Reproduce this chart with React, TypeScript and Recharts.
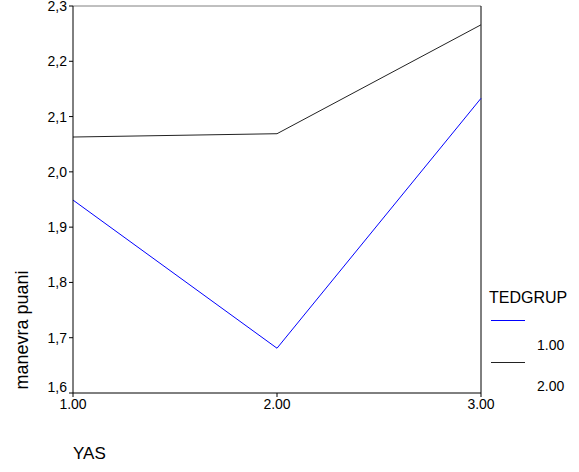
import React from "react";
import { LineChart, Line, XAxis, YAxis, ReferenceLine } from "recharts";

const yasCategories = [1, 2, 3];
const grup1Values = [1.949, 1.681, 2.133];
const grup2Values = [2.063, 2.069, 2.266];
const yTicks = [1.6, 1.7, 1.8, 1.9, 2.0, 2.1, 2.2, 2.3];
const legendTitle = "TEDGRUP";
const legendLabels = ["1.00", "2.00"];

const data = yasCategories.map((c, i) => ({ yas: c, g1: grup1Values[i], g2: grup2Values[i] }));

const FONT = "'Liberation Sans', Arial, Helvetica, sans-serif";

const LegendBox = () => (
  <div style={{ fontFamily: FONT, color: "#000", position: "absolute", left: 488, top: 289, width: 90, height: 110 }}>
    <div style={{ position: "absolute", left: 1, top: 0, fontSize: 16, lineHeight: "18px" }}>{legendTitle}</div>
    <div style={{ position: "absolute", left: 3, top: 31, width: 34, height: 0, borderTop: "1px solid #0000ff" }} />
    <div style={{ position: "absolute", left: 49, top: 48, fontSize: 14, lineHeight: "16px" }}>{legendLabels[0]}</div>
    <div style={{ position: "absolute", left: 3, top: 73, width: 34, height: 0, borderTop: "1px solid #222" }} />
    <div style={{ position: "absolute", left: 49, top: 89, fontSize: 14, lineHeight: "16px" }}>{legendLabels[1]}</div>
  </div>
);

const YTick = (props: any) => {
  const { x, y, payload } = props;
  const isBottom = Math.abs(payload.value - 1.6) < 1e-6;
  return (
    <text x={x} y={isBottom ? y - 6 : y} dy="0.355em" textAnchor="end" fontFamily={FONT} fontSize={14} fill="#000">
      {Number(payload.value).toFixed(1).replace(".", ",")}
    </text>
  );
};

const YLabel = (props: any) => {
  const vb = props.viewBox || {};
  const x = 22;
  const y = vb.y + vb.height - 63;
  return (
    <text x={x} y={y} transform={`rotate(-90, ${x}, ${y})`} textAnchor="middle" dominantBaseline="central"
      fontFamily={FONT} fontSize={18} fill="#000">manevra puani</text>
  );
};

const XLabel = (props: any) => {
  const vb = props.viewBox || {};
  return (
    <text x={vb.x} y={459} textAnchor="start" fontFamily={FONT} fontSize={17} fill="#000">YAS</text>
  );
};

export default function App() {
  return (
    <div style={{ position: "absolute", left: 0, top: 0, width: 579, height: 472 }}>
      <LineChart width={579} height={472} data={data} margin={{ top: 6, right: 98, bottom: 49, left: 8 }}>
        <XAxis
          dataKey="yas"
          type="number"
          domain={[1, 3]}
          ticks={yasCategories}
          tickFormatter={(v: number) => v.toFixed(2)}
          stroke="#000"
          tickSize={4}
          tick={{ fill: "#000", fontSize: 14, fontFamily: FONT }}
          height={30}
          label={<XLabel />}
        />
        <YAxis
          type="number"
          domain={[1.6, 2.3]}
          ticks={yTicks}
          stroke="#000"
          tickSize={4}
          tick={<YTick />}
          width={65}
          interval={0}
          label={<YLabel />}
        />
        <ReferenceLine y={2.3} stroke="#808080" strokeWidth={1} />
        <ReferenceLine x={3} stroke="#000" strokeWidth={1} />
        <Line dataKey="g1" stroke="#0000ff" strokeWidth={1} dot={false} isAnimationActive={false} />
        <Line dataKey="g2" stroke="#222" strokeWidth={1} dot={false} isAnimationActive={false} />
      </LineChart>
      <LegendBox />
    </div>
  );
}
